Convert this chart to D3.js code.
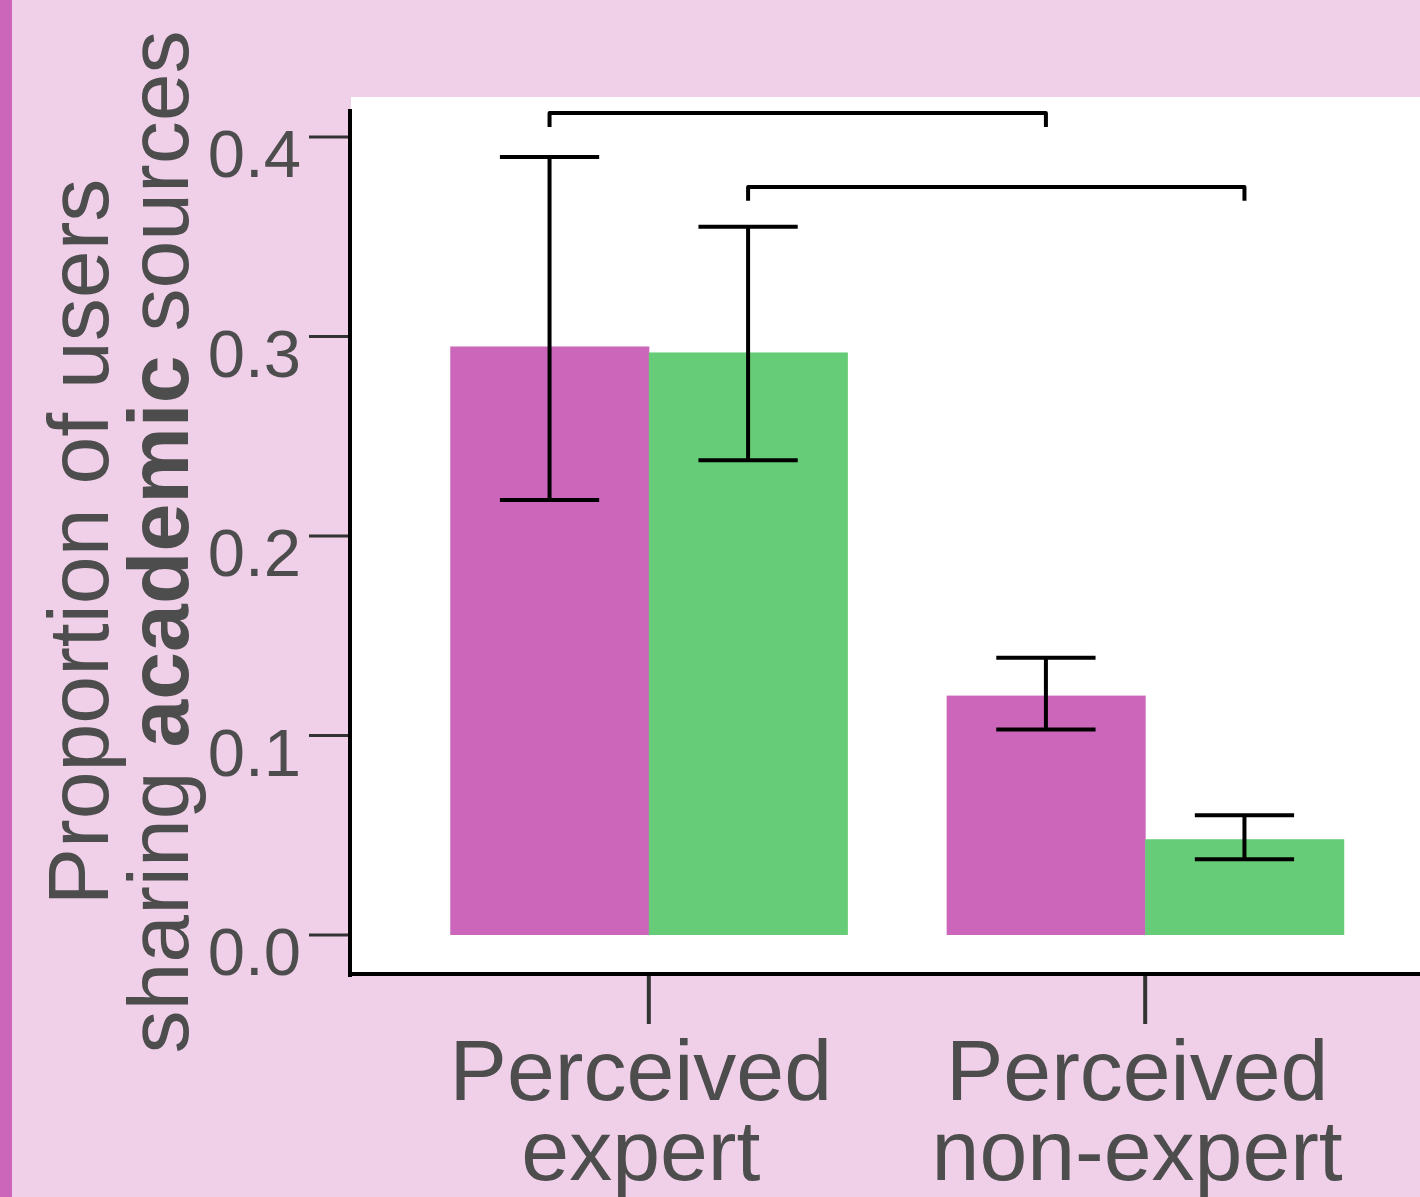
<!DOCTYPE html>
<html lang="en">
<head>
<meta charset="utf-8">
<title>Academic sources</title>
<script src="https://cdn.jsdelivr.net/npm/d3@7"></script>
<style>
  body { margin: 0; background: #f0d0e9; }
  svg { display: block; }
  text { font-family: "Liberation Sans", Arial, sans-serif; fill: #4d4d4d; }
</style>
</head>
<body>
<svg class="canvas"></svg>
<script>
// data
var groups = ["Perceived expert", "Perceived non-expert"];
var groupLines = [["Perceived", "expert"], ["Perceived", "non-expert"]];
var series = ["seriesA", "seriesB"];
var seriesColours = ["#cc66bb", "#66cc77"];
var means = [[0.295, 0.292], [0.120, 0.048]];
var lower = [[0.218, 0.238], [0.103, 0.038]];
var upper = [[0.390, 0.355], [0.139, 0.060]];
var yTicks = [0, 0.1, 0.2, 0.3, 0.4];
// significance brackets: which series, bar height and leg end
var brackets = [
  { series: "seriesA", top: 0.412, leg: 0.405 },
  { series: "seriesB", top: 0.375, leg: 0.368 }
];

(function () {
  var width = 1420, height = 1197;
  var panel = { left: 351, top: 97, bottom: 975, right: 1443 };

  var svg = d3.select(".canvas")
      .attr("width", width)
      .attr("height", height);

  svg.append("rect").attr("width", width).attr("height", height).attr("fill", "#f0d0e9");
  svg.append("rect").attr("width", 12).attr("height", height).attr("fill", "#cc66bb");
  svg.append("rect")
      .attr("x", panel.left).attr("y", panel.top)
      .attr("width", width - panel.left).attr("height", panel.bottom - panel.top)
      .attr("fill", "#ffffff");

  var x = d3.scaleBand().domain(groups)
      .range([panel.left, panel.right])
      .paddingInner(0.2).paddingOuter(0.2);
  var xs = d3.scaleBand().domain(series).range([0, x.bandwidth()]);
  var y = d3.scaleLinear().domain([0, 0.4]).range([935, 137]);

  var rows = [];
  groups.forEach(function (g, gi) {
    series.forEach(function (s, si) {
      rows.push({ g: g, s: s, si: si, m: means[gi][si], lo: lower[gi][si], hi: upper[gi][si] });
    });
  });
  var cx = function (d) { return x(d.g) + xs(d.s) + xs.bandwidth() / 2; };

  // bars
  svg.append("g").selectAll("rect")
    .data(rows).enter().append("rect")
      .attr("x", function (d) { return x(d.g) + xs(d.s); })
      .attr("y", function (d) { return y(d.m); })
      .attr("width", xs.bandwidth() + 0.5)
      .attr("height", function (d) { return y(0) - y(d.m); })
      .attr("fill", function (d) { return seriesColours[d.si]; });

  // error bars
  var capHalf = xs.bandwidth() / 4;
  var eb = svg.append("g").attr("stroke", "#000").attr("stroke-width", 4).attr("fill", "none");
  eb.selectAll("path").data(rows).enter().append("path")
      .attr("d", function (d) {
        var c = cx(d);
        return "M" + (c - capHalf) + "," + y(d.hi) + "H" + (c + capHalf) +
               "M" + c + "," + y(d.hi) + "V" + y(d.lo) +
               "M" + (c - capHalf) + "," + y(d.lo) + "H" + (c + capHalf);
      });

  // brackets
  svg.append("g").attr("stroke", "#000").attr("stroke-width", 4).attr("fill", "none")
      .attr("stroke-linejoin", "round")
    .selectAll("path").data(brackets).enter().append("path")
      .attr("d", function (b) {
        var x1 = x(groups[0]) + xs(b.series) + xs.bandwidth() / 2;
        var x2 = x(groups[1]) + xs(b.series) + xs.bandwidth() / 2;
        return "M" + x1 + "," + y(b.leg) + "V" + y(b.top) + "H" + x2 + "V" + y(b.leg);
      });

  // y axis
  var yAxis = svg.append("g");
  yAxis.append("line")
      .attr("x1", 350).attr("x2", 350).attr("y1", 109).attr("y2", 977)
      .attr("stroke", "#000").attr("stroke-width", 4);
  var yt = yAxis.selectAll("g.tick").data(yTicks).enter().append("g")
      .attr("transform", function (d) { return "translate(0," + y(d) + ")"; });
  yt.append("line").attr("x1", 309).attr("x2", 348)
      .attr("stroke", "#333").attr("stroke-width", 3);
  yt.append("text").attr("x", 301).attr("y", 40)
      .attr("text-anchor", "end").style("font-size", "67px")
      .text(d3.format(".1f"));

  // x axis
  var xAxis = svg.append("g");
  xAxis.append("line")
      .attr("x1", 348).attr("x2", width).attr("y1", 974).attr("y2", 974)
      .attr("stroke", "#000").attr("stroke-width", 4);
  var xt = xAxis.selectAll("g.tick").data(groups).enter().append("g")
      .attr("transform", function (d) { return "translate(" + (x(d) + x.bandwidth() / 2) + ",0)"; });
  xt.append("line").attr("y1", 976).attr("y2", 1024)
      .attr("stroke", "#333").attr("stroke-width", 4);
  var xl = xt.append("text").attr("text-anchor", "middle").style("font-size", "86px");
  xl.selectAll("tspan").data(function (d, i) { return groupLines[i]; })
    .enter().append("tspan")
      .attr("x", -8)
      .attr("y", function (d, i) { return 1100 + i * 80; })
      .text(function (d) { return d; });

  // y title
  var title = svg.append("text")
      .attr("transform", "translate(0,542) rotate(-90)")
      .attr("text-anchor", "middle")
      .style("font-size", "86px");
  title.append("tspan").attr("x", 0).attr("y", 108).text("Proportion of users");
  var l2 = title.append("tspan").attr("x", 0).attr("y", 188);
  l2.append("tspan").text("sharing ");
  l2.append("tspan").style("font-weight", "bold").text("academic");
  l2.append("tspan").text(" sources");
})();
</script>
</body>
</html>
